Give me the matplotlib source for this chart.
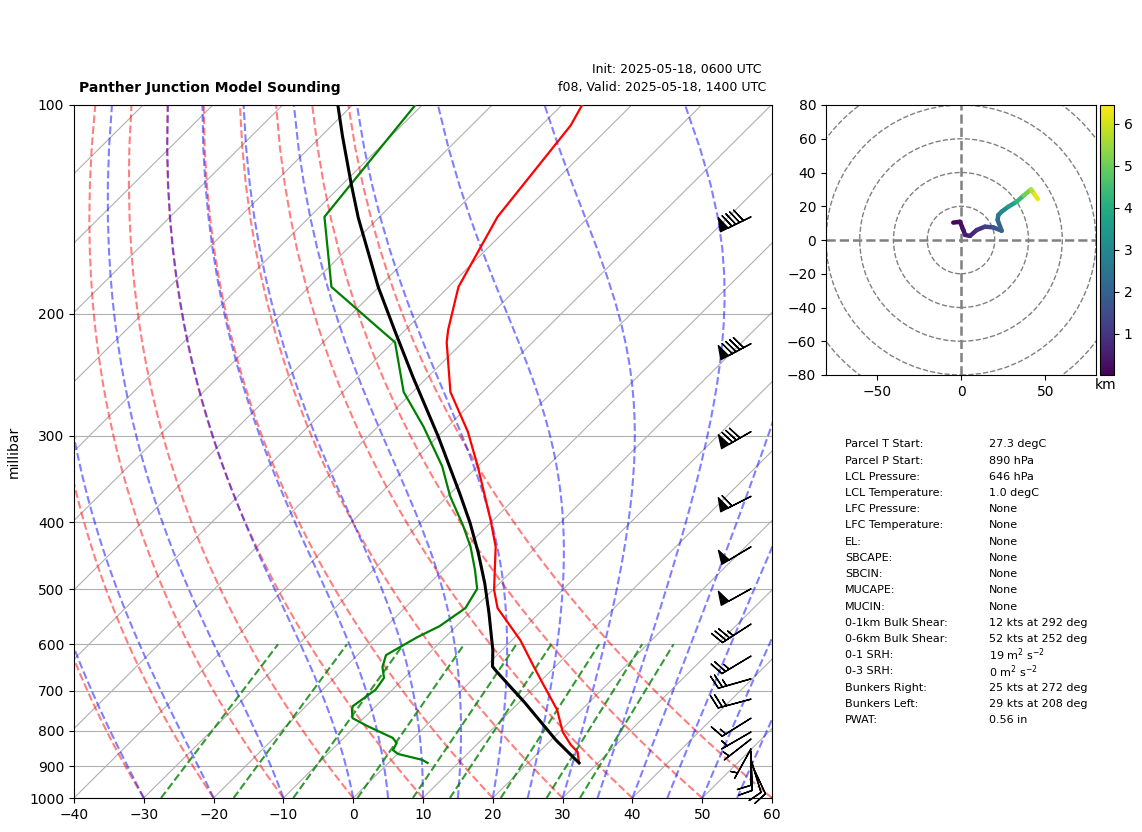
import numpy as np
import matplotlib
matplotlib.use("Agg")
import matplotlib.pyplot as plt
from matplotlib.collections import LineCollection

FIG_W, FIG_H = 1142, 832
SKEW = 99.9  # degrees per decade of pressure, gives the 45 degree isotherms

# temperature trace
t_pres = [100, 107, 145, 183, 211, 220, 259.5, 296, 332, 397, 434, 472, 501, 532, 592, 643, 682, 746, 803, 838, 858, 890]
t_vals = [-67.1, -65.8, -63.1, -58.6, -53.9, -52.3, -44.6, -36.4, -30.0, -20.4, -15.8, -12.3, -9.8, -6.7, 1.2, 6.6, 10.5, 16.5, 20.5, 23.5, 25.5, 27.3]

# dewpoint trace
td_pres = [100, 145, 183, 211, 220, 259.5, 291, 332, 367, 404, 434, 469, 499, 532, 565, 586, 622, 647, 671, 698, 737, 746, 767, 787, 819, 833, 853, 864, 881, 890]
td_vals = [-91.0, -87.9, -76.8, -63.6, -59.7, -51.3, -43.5, -35.1, -29.6, -23.6, -19.4, -15.4, -12.4, -11.3, -12.4, -14.0, -15.9, -14.7, -12.9, -12.4, -13.3, -12.9, -11.6, -8.4, -3.0, -1.7, -1.2, 0.1, 4.4, 5.6]

# parcel trace
parcel_pres = [100, 111, 130, 145.5, 183, 211, 247, 301, 365, 401, 443, 490, 541, 612, 646, 656, 729, 825, 890]
parcel_vals = [-102.1, -96.9, -88.8, -82.9, -70.1, -61.6, -52.1, -39.9, -28.4, -22.9, -17.4, -12.1, -7.2, -1.3, 1.0, 2.2, 10.9, 20.7, 27.3]

# winds
wind_pres = [145, 221, 296, 367, 434, 499, 561, 624, 673, 720, 767, 803, 822, 849, 856, 871, 881, 890]
wind_spd = [90, 90, 80, 60, 50, 50, 35, 25, 25, 25, 15, 5, 5, 5, 10, 10, 10, 10]
wind_dir = [244, 242, 240, 243, 239, 241, 237, 239, 254, 255, 238, 240, 232, 209, 180, 178, 163, 155]

# hodograph
hodo_u = [-4.6, -0.6, 1.4, 2.4, 5.3, 9.3, 14.2, 19.1, 24.1, 21.7, 22.1, 24.1, 28.0, 33.0, 37.2, 41.5, 43.5, 45.5]
hodo_v = [10.3, 10.8, 5.9, 3.0, 2.4, 5.9, 7.9, 7.5, 5.5, 11.9, 14.8, 16.8, 19.7, 22.7, 26.4, 30.0, 27.2, 24.3]
hodo_z = [0.05, 0.15, 0.3, 0.45, 0.6, 0.8, 1.1, 1.5, 1.9, 2.3, 2.55, 2.8, 3.3, 3.9, 4.7, 5.5, 6.0, 6.45]

# table
param_names = ["Parcel T Start:", "Parcel P Start:", "LCL Pressure:", "LCL Temperature:", "LFC Pressure:",
               "LFC Temperature:", "EL:", "SBCAPE:", "SBCIN:", "MUCAPE:", "MUCIN:", "0-1km Bulk Shear:",
               "0-6km Bulk Shear:", "0-1 SRH:", "0-3 SRH:", "Bunkers Right:", "Bunkers Left:", "PWAT:"]
param_vals = ["27.3 degC", "890 hPa", "646 hPa", "1.0 degC", "None", "None", "None", "None", "None", "None", "None",
              "12 kts at 292 deg", "52 kts at 252 deg", r"19 m$^2$ s$^{-2}$", r"0 m$^2$ s$^{-2}$",
              "25 kts at 272 deg", "29 kts at 208 deg", "0.56 in"]

# background line families
dry_t0 = np.arange(-40, 61, 10)
moist_t0 = np.concatenate((np.arange(-40, 0, 10), np.arange(0, 61, 5)))
mix_ratios = [0.0004, 0.001, 0.002, 0.004, 0.007, 0.01, 0.016, 0.024, 0.032]
isotherms = np.arange(-160, 61, 10)


def skew_x(temp, pres):
    return np.asarray(temp) + SKEW * np.log10(1000.0 / np.asarray(pres))


def sat_mix(t_k, p):
    es = 6.112 * np.exp(17.67 * (t_k - 273.15) / (t_k - 29.65))
    return 0.622 * es / (p - es)


def moist_rate(t_k, p):
    rs = sat_mix(t_k, p)
    return (287.05 * t_k + 2.501e6 * rs) / (1004.7 + 2.501e6 ** 2 * rs * 0.622 / (287.05 * t_k ** 2)) / p


def moist_curve(t0, pres):
    temps = [t0 + 273.15]
    for p0, p1 in zip(pres[:-1], pres[1:]):
        h = p1 - p0
        t = temps[-1]
        k1 = moist_rate(t, p0)
        k2 = moist_rate(t + h * k1 / 2, p0 + h / 2)
        k3 = moist_rate(t + h * k2 / 2, p0 + h / 2)
        k4 = moist_rate(t + h * k3, p1)
        temps.append(t + h * (k1 + 2 * k2 + 2 * k3 + k4) / 6)
    return np.array(temps) - 273.15


def px_axes(left, top, right, bottom):
    return [left / FIG_W, 1 - bottom / FIG_H, (right - left) / FIG_W, (bottom - top) / FIG_H]


fig = plt.figure(figsize=(FIG_W / 100, FIG_H / 100), dpi=100)

# skew-T
ax = fig.add_axes(px_axes(74, 105, 772, 798))
ax.set_yscale("log")
ax.set_ylim(1000, 100)
ax.set_xlim(-40, 60)

pres_line = np.linspace(1000, 100, 60)
for t in isotherms:
    ax.plot(skew_x([t, t], [1000, 100]), [1000, 100], color="#b0b0b0", lw=0.8, zorder=1)
for t in dry_t0:
    temp = (t + 273.15) * (pres_line / 1000.0) ** 0.2857 - 273.15
    ax.plot(skew_x(temp, pres_line), pres_line, color="r", ls="--", alpha=0.5, lw=1.5, zorder=1.5)
for t in moist_t0:
    ax.plot(skew_x(moist_curve(t, pres_line), pres_line), pres_line, color="b", ls="--", alpha=0.5, lw=1.5, zorder=1.5)
pres_mix = np.linspace(1000, 600, 2)
for w in mix_ratios:
    e = pres_mix * w / (0.622 + w)
    dew = 243.5 * np.log(e / 6.112) / (17.67 - np.log(e / 6.112))
    ax.plot(skew_x(dew, pres_mix), pres_mix, color="g", ls="--", alpha=0.8, lw=1.5, zorder=1.5)

ax.plot(skew_x(t_vals, t_pres), t_pres, color="r", lw=1.6, zorder=3)
ax.plot(skew_x(td_vals, td_pres), td_pres, color="g", lw=1.6, zorder=3)
ax.plot(skew_x(parcel_vals, parcel_pres), parcel_pres, color="k", lw=2.2, zorder=3)

rad = np.radians(wind_dir)
u = -np.array(wind_spd) * np.sin(rad)
v = -np.array(wind_spd) * np.cos(rad)
ax.barbs(np.full(len(wind_pres), 0.97), wind_pres, u, v, transform=ax.get_yaxis_transform(),
         clip_on=False, zorder=4, length=7, color="k")

ax.set_yticks(np.arange(100, 1001, 100))
ax.set_yticklabels([str(p) for p in range(100, 1001, 100)])
ax.minorticks_off()
ax.set_xticks(np.arange(-40, 61, 10))
ax.grid(True, axis="y", color="#b0b0b0", lw=0.8, zorder=1)
ax.set_axisbelow(True)
ax.set_ylabel("millibar", labelpad=6)

fig.text(79 / FIG_W, 1 - 88 / FIG_H, "Panther Junction Model Sounding", fontweight="bold", fontsize=10, va="center")
fig.text(762 / FIG_W, 1 - 70 / FIG_H, "Init: 2025-05-18, 0600 UTC", fontsize=9, ha="right", va="center")
fig.text(766 / FIG_W, 1 - 88 / FIG_H, "f08, Valid: 2025-05-18, 1400 UTC", fontsize=9, ha="right", va="center")

# hodograph
hax = fig.add_axes(px_axes(826, 105, 1096, 375))
for r in range(20, 121, 20):
    hax.add_patch(plt.Circle((0, 0), r, fill=False, color="gray", ls="--", lw=1.0))
hax.axhline(0, color="gray", ls="--", lw=1.8)
hax.axvline(0, color="gray", ls="--", lw=1.8)

pts = np.column_stack((hodo_u, hodo_v))
segs = np.stack((pts[:-1], pts[1:]), axis=1)
z = np.array(hodo_z)
lc = LineCollection(segs, cmap="viridis", norm=plt.Normalize(0.02, 6.45), linewidth=3.2, capstyle="round")
lc.set_array((z[:-1] + z[1:]) / 2)
hax.add_collection(lc)
hax.set_xlim(-80, 80)
hax.set_ylim(-80, 80)
hax.set_xticks([-50, 0, 50])
hax.set_yticks(np.arange(-80, 81, 20))

cax = fig.add_axes(px_axes(1100, 105, 1114, 375))
cb = fig.colorbar(lc, cax=cax)
cb.set_ticks([1, 2, 3, 4, 5, 6])
fig.text(1106 / FIG_W, 1 - 385 / FIG_H, "km", ha="center", va="center", fontsize=10)

# parameter table
for i, (name, val) in enumerate(zip(param_names, param_vals)):
    y = 444.3 + i * 16.22
    fig.text(845 / FIG_W, 1 - y / FIG_H, name, fontsize=8, va="center")
    fig.text(989 / FIG_W, 1 - y / FIG_H, val, fontsize=8, va="center")

fig.savefig("out.png", dpi=100)
